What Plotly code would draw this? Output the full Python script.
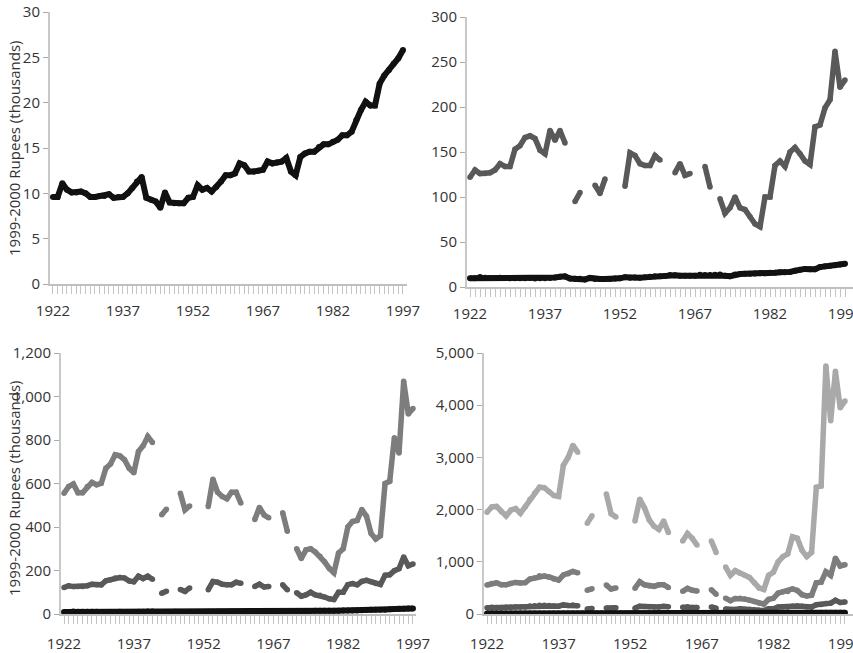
import plotly.graph_objects as go

years = list(range(1922, 1998))

average_income = [9.6, 9.6, 11.1, 10.4, 10.1, 10.1, 10.2, 10.0, 9.6, 9.6,
                  9.7, 9.7, 9.9, 9.5, 9.6, 9.6, 10.0, 10.6, 11.3, 11.8,
                  9.5, 9.3, 9.1, 8.4, 10.1, 9.0, 8.9, 8.9, 8.9, 9.5,
                  9.6, 10.9, 10.4, 10.6, 10.2, 10.7, 11.3, 12.0, 12.0, 12.2,
                  13.3, 13.1, 12.4, 12.4, 12.5, 12.6, 13.5, 13.3, 13.4, 13.5,
                  13.9, 12.4, 12.0, 14.0, 14.4, 14.6, 14.6, 15.1, 15.4, 15.4,
                  15.7, 15.9, 16.4, 16.4, 16.8, 18.1, 19.2, 20.1, 19.7, 19.7,
                  22.1, 23.0, 23.6, 24.3, 24.9, 25.8]

top_1 = ([122, 130, 126, 126, 127, 130, 137, 134, 134, 153,
          157, 166, 168, 165, 152, 148, 174, 163, 174, 160]
         + [None] + [95, 105] + [None, None] + [113, 104, 120]
         + [None, None, None] + [112, 149, 146, 137, 135, 135, 146, 141]
         + [None, None] + [127, 137, 124, 126] + [None, None] + [134, 111]
         + [None]
         + [98, 82, 88, 100, 88, 86, 78, 70, 67, 100,
            100, 135, 140, 134, 150, 155, 148, 140, 136, 178,
            180, 199, 208, 262, 222, 230])

top_01 = ([555, 586, 598, 558, 558, 586, 605, 594, 601, 670,
           690, 732, 727, 709, 670, 650, 747, 773, 816, 789]
          + [None] + [456, 482] + [None, None] + [555, 479, 497]
          + [None, None, None] + [494, 620, 560, 540, 530, 560, 560, 510]
          + [None, None] + [435, 490, 455, 442] + [None, None] + [465, 380]
          + [None]
          + [300, 255, 295, 300, 285, 265, 240, 210, 190, 280,
             300, 400, 425, 430, 480, 450, 370, 345, 360, 600,
             610, 810, 740, 1070, 920, 945])

top_001 = ([1950, 2050, 2060, 1960, 1880, 1990, 2020, 1930, 2050, 2200,
            2320, 2430, 2420, 2340, 2270, 2250, 2850, 3000, 3230, 3100]
           + [None] + [1740, 1880] + [None, None] + [2300, 1920, 1860]
           + [None, None, None] + [1780, 2200, 2030, 1800, 1680, 1620, 1780, 1560]
           + [None, None] + [1400, 1540, 1450, 1320] + [None, None] + [1400, 1180]
           + [None]
           + [900, 740, 830, 780, 740, 700, 600, 500, 470, 740,
              800, 1000, 1100, 1150, 1480, 1450, 1220, 1100, 1180, 2430,
              2450, 4750, 3700, 4650, 3950, 4080])

tick_years = [1922, 1937, 1952, 1967, 1982, 1997]
y_title = "1999-2000 Rupees (thousands)"

W, H = 853, 653
FONT = "Open Sans"
TXT = "#333333"

COL_BLACK = "#111111"
COL_DARK = "#595959"
COL_MED = "#7d7d7d"
COL_LIGHT = "#a9a9a9"

fig = go.Figure()

panels = [
    # (series, xdomain px, ybottom px, ytop px, xrange, ymax, dtick, label standoff)
    ([(average_income, COL_BLACK, 6)], (50, 407), 284, 12, (1921.36, 1997.86), 30, 5, 4),
    ([(top_1, COL_DARK, 5.5), (average_income, COL_BLACK, 6)], (467, 853), 287, 17,
     (1921.4, 1998.6), 300, 50, 4),
    ([(top_01, COL_MED, 5.5), (top_1, COL_DARK, 5.5), (average_income, COL_BLACK, 6)],
     (61, 416), 614, 353, (1921.35, 1997.65), 1200, 200, 7),
    ([(top_001, COL_LIGHT, 5.5), (top_01, COL_MED, 5.5), (top_1, COL_DARK, 5.5),
      (average_income, COL_BLACK, 6)], (484, 853), 614, 353, (1921.37, 1998.68), 5000, 1000, 7),
]

layout = {}
for k, (series, xd, yb, yt, xr, ymax, dt, so) in enumerate(panels, start=1):
    xa = "x" if k == 1 else f"x{k}"
    ya = "y" if k == 1 else f"y{k}"
    for vals, col, w in series:
        fig.add_trace(go.Scatter(x=years, y=vals, mode="lines+markers", xaxis=xa, yaxis=ya,
                                 line=dict(color=col, width=w),
                                 marker=dict(color=col, size=w, line=dict(width=0)),
                                 connectgaps=False, cliponaxis=True,
                                 showlegend=False, hoverinfo="skip"))
    xkey = "xaxis" if k == 1 else f"xaxis{k}"
    ykey = "yaxis" if k == 1 else f"yaxis{k}"
    layout[xkey] = dict(
        domain=[xd[0] / W, xd[1] / W], anchor=ya, range=list(xr),
        tickmode="array", tickvals=years,
        ticktext=[str(y) if y in tick_years else "" for y in years],
        ticks="outside", ticklen=8, tickwidth=1, tickcolor="#c4c4c4",
        showline=True, linecolor="#c0c0c0", linewidth=2,
        showgrid=False, zeroline=False, automargin=False,
        tickfont=dict(family=FONT, size=15, color=TXT),
        ticklabelstandoff=so, ticklabeloverflow="allow",
    )
    layout[ykey] = dict(
        domain=[1 - yb / H, 1 - yt / H], anchor=xa, range=[0, ymax],
        tick0=0, dtick=dt, tickformat=",d",
        ticks="outside", ticklen=5, tickwidth=1, tickcolor="#aaaaaa",
        showline=True, linecolor="#c8c8c8", linewidth=2,
        showgrid=False, zeroline=False, automargin=False,
        tickfont=dict(family=FONT, size=15, color=TXT),
        ticklabeloverflow="allow",
    )

fig.update_layout(
    width=W, height=H,
    margin=dict(l=0, r=0, t=0, b=0, pad=0, autoexpand=False),
    paper_bgcolor="white", plot_bgcolor="white",
    hovermode=False,
    **layout,
)

for ycen in (148, 488):
    fig.add_annotation(text=y_title, xref="paper", yref="paper",
                       x=14 / W, y=1 - ycen / H, textangle=-90, showarrow=False,
                       font=dict(family=FONT, size=15, color=TXT),
                       xanchor="center", yanchor="middle")

fig.write_html(
    "out.html",
    config={"displayModeBar": False, "staticPlot": True},
    post_script="document.body.style.margin='0';document.body.style.overflow='hidden';",
)
